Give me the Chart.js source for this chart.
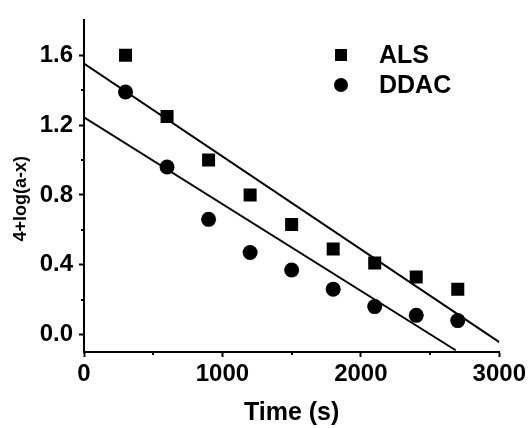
<!DOCTYPE html>
<html>
<head>
<meta charset="utf-8">
<script src="https://cdn.jsdelivr.net/npm/chart.js@4.4.0/dist/chart.umd.min.js"></script>
<style>
  body { margin: 0; background: #fff; }
  #wrap { width: 529px; height: 428px; }
</style>
</head>
<body>
<div id="wrap"><canvas id="kinetics" width="529" height="428"></canvas></div>
<script>
// Data
const times = [300, 600, 900, 1200, 1500, 1800, 2100, 2400, 2700];
const alsValues = [1.60, 1.25, 1.00, 0.80, 0.63, 0.49, 0.41, 0.33, 0.26];
const ddacValues = [1.39, 0.96, 0.66, 0.47, 0.37, 0.26, 0.16, 0.11, 0.08];

// Fitted lines (end points)
const alsFitX = [0, 3000];
const alsFitY = [1.553, -0.043];
const ddacFitX = [0, 2685];
const ddacFitY = [1.244, -0.09];

// Ticks
const xTicks = [0, 1000, 2000, 3000];
const xMinorTicks = [500, 1500, 2500];
const yTicks = [0.0, 0.4, 0.8, 1.2, 1.6];
const yMinorTicks = [0.2, 0.6, 1.0, 1.4];

const fontFamily = '"Liberation Sans", Arial, sans-serif';

function toPoints(xs, ys) {
    return xs.map((x, i) => ({ x: x, y: ys[i] }));
}

// Draws the small in-plot legend and the minor ticks
const extras = {
    id: 'extras',
    afterDraw(chart) {
        const c = chart.ctx;
        const xs = chart.scales.x;
        const ys = chart.scales.y;
        c.save();
        c.strokeStyle = '#000';
        c.lineWidth = 2;
        xMinorTicks.forEach(v => {
            const px = Math.round(xs.getPixelForValue(v));
            c.beginPath();
            c.moveTo(px, xs.top);
            c.lineTo(px, xs.top + 3);
            c.stroke();
        });
        yMinorTicks.forEach(v => {
            const py = Math.round(ys.getPixelForValue(v));
            c.beginPath();
            c.moveTo(ys.right, py);
            c.lineTo(ys.right - 3, py);
            c.stroke();
        });

        // legend
        c.fillStyle = '#000';
        c.font = 'bold 25px ' + fontFamily;
        c.textBaseline = 'middle';
        c.textAlign = 'left';
        const items = chart.data.datasets.filter(d => d.inLegend);
        items.forEach((d, i) => {
            const y = 55 + i * 30;
            if (d.pointStyle === 'rect') {
                c.fillRect(335, y - 6, 12, 12);
            } else {
                c.beginPath();
                c.arc(341, y, 7, 0, Math.PI * 2);
                c.fill();
            }
            c.fillText(d.label, 379, y + 1);
        });
        c.restore();
    }
};

const ctx = document.getElementById('kinetics').getContext('2d');

new Chart(ctx, {
    type: 'scatter',
    data: {
        datasets: [
            {
                label: 'ALS',
                inLegend: true,
                data: toPoints(times, alsValues),
                pointStyle: 'rect',
                pointRadius: 9.2,
                backgroundColor: '#000',
                borderWidth: 0
            },
            {
                label: 'DDAC',
                inLegend: true,
                data: toPoints(times, ddacValues),
                pointStyle: 'circle',
                pointRadius: 7.5,
                backgroundColor: '#000',
                borderWidth: 0
            },
            {
                label: 'ALS fit',
                data: toPoints(alsFitX, alsFitY),
                showLine: true,
                pointRadius: 0,
                borderColor: '#000',
                borderWidth: 2
            },
            {
                label: 'DDAC fit',
                data: toPoints(ddacFitX, ddacFitY),
                showLine: true,
                pointRadius: 0,
                borderColor: '#000',
                borderWidth: 2
            }
        ]
    },
    options: {
        responsive: false,
        animation: false,
        layout: { padding: { top: 15, right: 29, left: 0, bottom: 0 } },
        plugins: {
            legend: { display: false },
            tooltip: { enabled: false }
        },
        scales: {
            x: {
                type: 'linear',
                min: 0,
                max: 3000,
                afterBuildTicks: s => { s.ticks = xTicks.map(v => ({ value: v })); },
                afterFit: s => { s.height = 76; },
                border: { display: true, color: '#000', width: 2 },
                grid: { display: true, drawOnChartArea: false, color: '#000', tickLength: 5, tickWidth: 2 },
                ticks: {
                    color: '#000',
                    padding: 3,
                    maxRotation: 0,
                    callback: v => String(v),
                    font: { family: fontFamily, size: 24, weight: 'bold' }
                },
                title: {
                    display: true,
                    text: 'Time (s)',
                    color: '#000',
                    padding: { top: 0, bottom: 0 },
                    font: { family: fontFamily, size: 25, weight: 'bold' }
                }
            },
            y: {
                type: 'linear',
                min: -0.1,
                max: 1.8,
                afterBuildTicks: s => { s.ticks = yTicks.map(v => ({ value: v })); },
                afterFit: s => { s.width = 84; },
                border: { display: true, color: '#000', width: 2 },
                grid: { display: true, drawOnChartArea: false, color: '#000', tickLength: 5, tickWidth: 2 },
                ticks: {
                    color: '#000',
                    padding: 6,
                    callback: v => Number(v).toFixed(1),
                    font: { family: fontFamily, size: 24, weight: 'bold' }
                },
                title: {
                    display: true,
                    text: '4+log(a-x)     ',
                    color: '#000',
                    padding: { top: 10, bottom: 0 },
                    font: { family: fontFamily, size: 18, weight: 'bold' }
                }
            }
        }
    },
    plugins: [extras]
});
</script>
</body>
</html>
